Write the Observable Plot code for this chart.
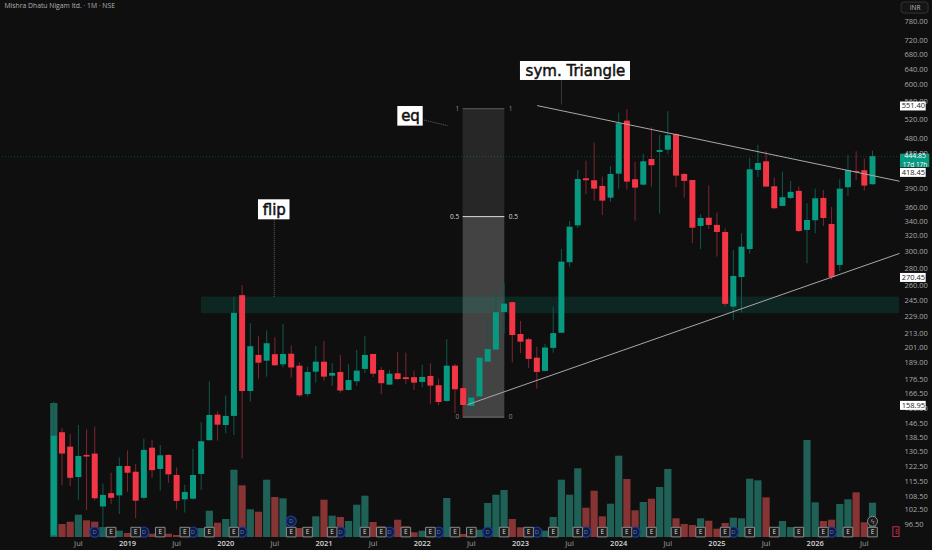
<!DOCTYPE html>
<html><head><meta charset="utf-8">
<script src="https://cdn.jsdelivr.net/npm/d3@7"></script>
<script src="https://cdn.jsdelivr.net/npm/@observablehq/plot@0.6"></script>
<style>html,body{margin:0;background:#0f0f0f}#chart{position:relative;width:932px;height:550px;overflow:hidden}#chart svg{position:absolute;left:0;top:0}</style>
</head><body><div id="chart"></div>
<script>
const opens=[92,141.3,133.1,117.3,128.6,129.3,103.8,109.7,108.7,122.8,119.9,107.6,132.5,121.3,128.6,118.3,106.9,107.2,118.8,136.7,152,145.6,151.2,249.7,167.7,194.8,190.2,195.4,187.4,195.8,186.3,165.6,181.7,189.4,178.7,181.5,168.4,174.6,183.8,195.6,183,172.2,180.5,177.6,177.6,174.1,178.5,171.8,160.9,186.3,169.7,157.6,163.9,189.4,199.2,232.9,242.5,212.5,207.9,192.6,182.3,200.6,213.6,286.3,333.7,405.8,402.5,393.1,374.4,413.7,515.6,404.2,395.2,439.7,452.7,457,487.9,413.2,402.9,332.9,344.5,334.3,324.7,238.1,269.3,302.5,420.1,435.5,392.6,361.8,374,385.1,327.4,340.9,374,335.7,283.1,391,418.4,419.6,395.9];
const highs=[160.5,143.7,140.3,145.6,143,144.6,114.2,119.4,127.3,131,123.8,137.6,136.9,134,128.8,122.1,113.6,131.9,147.3,174.6,154.1,164.7,248.2,260.5,222.2,211,215.8,209.6,221.6,202.5,188.9,185.5,202.2,206.4,188.2,194.8,187.6,198.9,211,195.6,185.1,183,197.2,196.6,182.5,187,188.2,176.5,207.9,187.6,173.2,174.1,192.6,226.3,254.8,262.4,243.1,224.4,209.3,201.6,203.9,238.1,302.6,339.9,420.1,436.6,470.6,408.6,427.1,533.1,541.2,434.3,449,501.6,485.9,536.2,489.3,414.4,402.9,349.5,393.6,351.8,329.7,301.3,322.9,441.5,466.2,454.6,406.8,417.2,401.4,392,365.9,388.7,386.6,360.2,404.2,447.1,454.1,441,455.2];
const lows=[91.4,113.4,113,106.7,102.3,106.5,93.5,104.9,100.6,110.3,98.9,106.9,116.9,110.8,114.5,102.5,101.2,106.9,111.1,136.5,136.5,140.7,139.7,126.8,160.4,176.5,178,186.1,184.9,177.3,163.5,163.9,173.6,175,171.3,166.5,168,171.3,180.5,177.7,165.6,171.8,175.5,172.7,168.4,170.3,158.9,158.1,160.4,152.9,150.8,154.9,163.5,189.4,199.2,213.1,188.9,196.2,184.5,169.3,182.3,196.6,213.4,281,330,379.8,369.8,348.4,367.8,388.7,387.1,340.3,394.3,392,350.3,449,391,374.4,309.8,302.5,328.7,293.1,238.1,225.3,232.2,296.8,408,392,356.8,361.8,372,324.3,285.1,322.9,332.9,266.3,276.1,377.1,402.9,385.5,394.8];
const closes=[139.3,129.3,116.9,128,127.7,107.4,108.9,107.6,122.8,119.4,106.3,131.3,120.7,128.4,118.6,106.2,110.2,118.3,136.1,151.8,145.8,151.2,232,167.7,202,188.6,204.5,186.6,195.6,184.9,164.7,181.5,189.4,178,180.7,168,175.5,182.5,194.8,180.2,173.2,180.2,176.2,176.2,173.6,177.8,171.5,160.2,186.3,168.9,158.2,163.2,192.6,199.6,232.6,241.1,211.6,205.8,191.6,181.5,200.9,213.3,287,331.8,404.6,402.5,388.7,369.8,413.2,510.1,400.2,390.3,435.5,428.4,456.4,485.3,410.3,401.4,330.5,344.1,334.3,324.7,240.8,270.4,305.4,421.2,432.5,392,358.3,375.1,383.5,326,341.3,373.5,344.1,269.3,388.7,420.1,416.7,393.6,444.85];
const volumes=[134,13,15.3,22.3,16.7,15.3,10,8,6.3,4,6,5,3.3,5,3.3,2,5,6,9,26.3,14.3,18,67.3,51.7,27.7,25.3,57.3,40,38.7,10,9,8,20.7,37.3,21.3,20,16,32.3,41.3,15,10.7,9,17.3,10.7,4.7,6.3,9,7,39,5,3,5,7.3,34,42.3,47,18,9.7,9,7,6.3,20,57.3,42.3,68.7,29.3,46.3,20.7,33.3,81.3,58,26.7,35,38.3,50,68,18.7,13,12,18.7,16.3,8.3,14,19.3,18.7,58.3,56.7,39.7,9,16,10,9,97,34.7,16,17.3,33,37.7,44.7,14.7,34.3];
const priceTicks=[780,720,680,640,600,560,520,480,450,390,360,340,320,300,280,260,245,229,213,201,189,176.5,166.5,156.5,146.5,138.5,130.5,122.5,115.5,108.5,102.5,96.5];
const julTicks=[3,15,27,39,51,63,75,87,99];
const yearTicks=[9,21,33,45,57,69,81,93];
const yearLabels=["2019","2020","2021","2022","2023","2024","2025","2026"];
const priceTags=[551.40,418.45,270.45,158.95];
const earnings=[7,10,13,16,19,22,29,31,34,38,40,43,46,49,51,55,58,61,64,67,70,73,76,79,82,85,88,91,94,97,100];
const dividends=[5,11,17,23,35,41,47,53,59,65,71,83,95];
const zone={x1:18.04,x2:103.3,y1:231.7,y2:248.2};
const fib={x1:50,x2:55.09,top:542.8,mid:346.8,bottom:150.8};
const fibLevels=[{t:"1",v:fib.top,c:"#8a8a8a"},{t:"0.5",v:fib.mid,c:"#d8d8d8"},{t:"0",v:fib.bottom,c:"#8a8a8a"}];
const trendLines=[
  {name:"upper",x1:59.04,y1:550,x2:103.3,y2:401.7},
  {name:"lower",x1:50.5,y1:158.7,x2:103.3,y2:297.6}];
const notes=[
  {text:"flip",x:26.93,y:356.8,x1:25,x2:28.85,y1:342.2,y2:371.9},
  {text:"eq",x:43.57,y:526.3,x1:42.02,x2:45.12,y1:505,y2:547.9},
  {text:"sym. Triangle",x:63.72,y:635,x1:57,x2:70.44,y1:610.5,y2:660.6}];
const leaders=[
  {x1:26.93,y1:342.2,x2:26.93,y2:248},
  {x1:45.2,y1:518,x2:48.1,y2:506},
  {x1:62,y1:610.5,x2:62,y2:552}];

const bars=opens.map((o,i)=>({i,o,h:highs[i],l:lows[i],c:closes[i],v:volumes[i],up:closes[i]>=o}));
const GREEN="#089981",RED="#f23645";
const xs={domain:[0,100],range:[53.3,872]};
const ys={type:"log",domain:[96.5,780],range:[524,21]};
const FONT="'Open Sans',sans-serif";
const base={width:932,height:550,marginLeft:0,marginTop:0,marginRight:28,marginBottom:11,style:{background:"transparent",fontFamily:FONT}};

const vol=Plot.plot({...base,x:{...xs,axis:null},y:{domain:[0,134],range:[537,403],axis:null},
  marks:[Plot.ruleX(bars,{x:"i",y1:0,y2:"v",stroke:d=>d.up?"#1f6157":"#873434",strokeWidth:7.2})]});

const dotY=93.5;
const main=Plot.plot({...base,x:{...xs,axis:null},y:{...ys,axis:null},
  marks:[
    Plot.ruleY([444.85],{x1:-7,x2:103.3,stroke:GREEN,strokeOpacity:.4,strokeDasharray:"1,2",strokeWidth:1}),
    Plot.rect([fib],{x1:"x1",x2:"x2",y1:"mid",y2:"top",fill:"#fff",fillOpacity:.1}),
    Plot.rect([fib],{x1:"x1",x2:"x2",y1:"bottom",y2:"mid",fill:"#fff",fillOpacity:.22}),
    Plot.ruleY([fib.top],{x1:fib.x1,x2:fib.x2,stroke:"#5c5c5c",strokeWidth:1}),
    Plot.ruleY([fib.mid],{x1:fib.x1,x2:fib.x2,stroke:"#d8d8d8",strokeWidth:1}),
    Plot.ruleY([fib.bottom],{x1:fib.x1,x2:fib.x2,stroke:"#8a8a8a",strokeWidth:1}),
    Plot.text(fibLevels,{x:fib.x1,y:"v",text:"t",dx:-4,textAnchor:"end",fontSize:6.5,fill:"c"}),
    Plot.text(fibLevels,{x:fib.x2,y:"v",text:"t",dx:4,textAnchor:"start",fontSize:6.5,fill:"c"}),
    Plot.rect([zone],{x1:"x1",x2:"x2",y1:"y1",y2:"y2",fill:GREEN,fillOpacity:.17}),
    Plot.ruleX(bars,{x:"i",y1:"l",y2:"h",stroke:d=>d.up?"#0e5a4d":"#7f2630",strokeWidth:1}),
    Plot.ruleX(bars,{x:"i",y1:"o",y2:"c",stroke:d=>d.up?GREEN:RED,strokeWidth:6}),
    ...trendLines.map(l=>Plot.link([l],{x1:"x1",y1:"y1",x2:"x2",y2:"y2",stroke:"#a8a8a8",strokeWidth:1})),
    Plot.link(leaders,{x1:"x1",y1:"y1",x2:"x2",y2:"y2",stroke:"#666",strokeWidth:1,strokeDasharray:"1,1"}),
    Plot.rect(notes,{x1:"x1",x2:"x2",y1:"y1",y2:"y2",fill:"#fff"}),
    Plot.text(notes,{x:"x",y:"y",text:"text",fill:"#111",fontSize:15,fontFamily:"'DejaVu Sans',sans-serif",stroke:"#111",strokeWidth:.5}),
    // events strip
    Plot.dot(dividends,{x:d=>d,y:dotY,r:5,fill:"#101a3a",stroke:"#1c3a94",strokeWidth:1.4}),
    Plot.text(dividends,{x:d=>d,y:dotY,text:()=>"D",fontSize:6,fill:"#5d7fd6"}),
    Plot.dot([29],{x:d=>d,y:97.8,r:5,fill:"#101a3a",stroke:"#1c3a94",strokeWidth:1.4}),
    Plot.text([29],{x:d=>d,y:97.8,text:()=>"D",fontSize:6,fill:"#5d7fd6"}),
    Plot.dot(earnings,{x:d=>d,y:dotY,symbol:"square",r:5.4,fill:"#1b1b1b",stroke:"#8a8a8a",strokeWidth:1,strokeLinejoin:"round"}),
    Plot.text(earnings,{x:d=>d,y:dotY,text:()=>"E",fontSize:6.5,fill:"#ddd"}),
    Plot.dot([100],{x:d=>d,y:97.8,r:5,fill:"#1b1b1b",stroke:"#8a8a8a",strokeWidth:1}),
    Plot.text([100],{x:d=>d,y:97.8,text:()=>"ϟ",fontSize:7,fill:"#999"}),
    Plot.rect([{x1:102.55,x2:103.3,y1:91.6,y2:95.4}],{x1:"x1",x2:"x2",y1:"y1",y2:"y2",stroke:"#c2304a",strokeWidth:1,fill:"none"}),
    Plot.text([103],{x:d=>d,y:dotY,text:()=>"E",fontSize:7,fill:"#c2304a"}),
    // axes
    Plot.axisY({anchor:"right",ticks:priceTicks,tickFormat:d=>d.toFixed(2),tickSize:0,tickPadding:0,label:null,fontSize:7.5,color:"#a8a8a8",textAnchor:"start"}),
    Plot.axisX({anchor:"bottom",ticks:julTicks,tickFormat:()=>"Jul",tickSize:0,tickPadding:1,label:null,fontSize:7.5,color:"#a0a0a0"}),
    Plot.axisX({anchor:"bottom",ticks:yearTicks,tickFormat:d=>yearLabels[yearTicks.indexOf(d)],tickSize:0,tickPadding:1,label:null,fontSize:7.5,color:"#d4d4d4",fontWeight:600}),
    // price tags
    Plot.ruleY(priceTags,{x1:103.42,x2:106.56,stroke:"#fff",strokeWidth:9,dy:1}),
    Plot.text(priceTags,{x:104.99,y:d=>d,dy:1,text:d=>d.toFixed(2),fontSize:7.5,fill:"#222"}),
    Plot.ruleY([438],{x1:103.42,x2:107,stroke:GREEN,strokeWidth:13.5}),
    Plot.text(["444.85"],{x:105.2,y:446,text:d=>d,fontSize:7,fill:"#fff"}),
    Plot.text(["17d 17h"],{x:105.2,y:430,text:d=>d,fontSize:6.5,fill:"#fff"}),
    // header
    Plot.text(["Mishra Dhatu Nigam ltd. · 1M · NSE"],{frameAnchor:"top-left",dx:4,dy:3,text:d=>d,textAnchor:"start",fontSize:6.8,fill:"#b0b0b0"}),
    Plot.rect([{x1:103.55,x2:106.85,y1:806,y2:844}],{x1:"x1",x2:"x2",y1:"y1",y2:"y2",fill:"#151515",stroke:"#333",rx:3}),
    Plot.text(["INR"],{x:105.2,y:824,text:d=>d,fontSize:6.5,fill:"#bbb"})
  ]});
document.getElementById("chart").append(vol,main);
</script></body></html>
